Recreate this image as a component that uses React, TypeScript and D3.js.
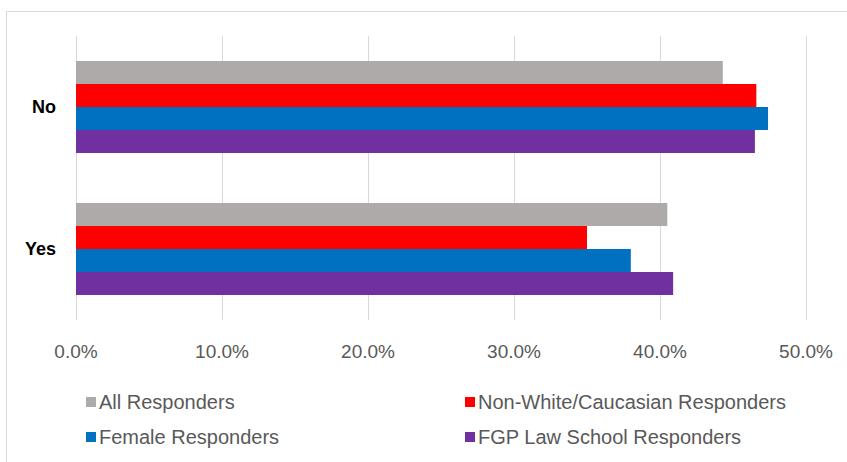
import * as d3 from "d3";
import { useEffect, useRef } from "react";

// Categories (top to bottom) and series
const categories = ["No", "Yes"];
const seriesNames = [
  "All Responders",
  "Non-White/Caucasian Responders",
  "Female Responders",
  "FGP Law School Responders",
];
const seriesColors = ["#AEAAAA", "#FF0000", "#0070C0", "#7030A0"];

// Values in percent, one array per series: [No, Yes]
const allResponders = [44.3, 40.5];
const nonWhiteResponders = [46.6, 35.0];
const femaleResponders = [47.4, 38.0];
const fgpResponders = [46.5, 40.9];

const xTicks = [0, 10, 20, 30, 40, 50];

const width = 847;
const height = 462;
const font = "'Liberation Sans', Arial, sans-serif";

const App = () => {
  const svgRef = useRef<SVGSVGElement>(null);

  useEffect(() => {
    if (!svgRef.current) return;
    const svg = d3.select(svgRef.current);
    svg.selectAll("*").remove();

    const values = [allResponders, nonWhiteResponders, femaleResponders, fgpResponders];
    const plot = { left: 76, right: 806, top: 36, bottom: 320 };

    // chart frame (runs off the right/bottom of the picture)
    svg
      .append("rect")
      .attr("x", 6.5)
      .attr("y", 11.5)
      .attr("width", 900)
      .attr("height", 500)
      .attr("fill", "#fff")
      .attr("stroke", "#d9d9d9");

    const x = d3.scaleLinear().domain([0, 50]).range([plot.left, plot.right]);
    const gap = 50 / 142;
    const y = d3
      .scaleBand()
      .domain(categories)
      .range([plot.top, plot.bottom])
      .paddingInner(gap)
      .paddingOuter(gap / 2);
    const yInner = d3
      .scaleBand()
      .domain(seriesNames)
      .range([0, y.bandwidth()]);

    // gridlines
    svg
      .append("g")
      .selectAll("line")
      .data(xTicks)
      .join("line")
      .attr("x1", d => Math.round(x(d)) + 0.5)
      .attr("x2", d => Math.round(x(d)) + 0.5)
      .attr("y1", plot.top)
      .attr("y2", plot.bottom)
      .attr("stroke", "#d9d9d9")
      .attr("stroke-width", 1);

    // tick labels
    svg
      .append("g")
      .selectAll("text")
      .data(xTicks)
      .join("text")
      .attr("x", d => x(d))
      .attr("y", 351)
      .attr("text-anchor", "middle")
      .attr("dominant-baseline", "central")
      .attr("font-family", font)
      .attr("font-size", 19)
      .attr("fill", "#595959")
      .text(d => `${d.toFixed(1)}%`);

    // category labels
    svg
      .append("g")
      .selectAll("text")
      .data(categories)
      .join("text")
      .attr("x", 56)
      .attr("y", d => (y(d) ?? 0) + y.bandwidth() / 2)
      .attr("text-anchor", "end")
      .attr("dominant-baseline", "central")
      .attr("font-family", font)
      .attr("font-size", 18)
      .attr("font-weight", "bold")
      .attr("fill", "#000")
      .text(d => d);

    // bars
    seriesNames.forEach((name, si) => {
      svg
        .append("g")
        .selectAll("rect")
        .data(categories.map((c, ci) => ({ c, v: values[si][ci] })))
        .join("rect")
        .attr("x", x(0))
        .attr("y", d => (y(d.c) ?? 0) + (yInner(name) ?? 0))
        .attr("width", d => x(d.v) - x(0))
        .attr("height", yInner.bandwidth())
        .attr("fill", seriesColors[si]);
    });

    // legend
    const legendPos = [
      { x: 86, y: 402 },
      { x: 465, y: 402 },
      { x: 86, y: 437 },
      { x: 465, y: 437 },
    ];
    const legend = svg
      .append("g")
      .selectAll("g")
      .data(seriesNames)
      .join("g")
      .attr("transform", (_, i) => `translate(${legendPos[i].x}, ${legendPos[i].y})`);
    legend
      .append("rect")
      .attr("x", 0)
      .attr("y", -5)
      .attr("width", 10)
      .attr("height", 10)
      .attr("fill", (_, i) => seriesColors[i]);
    legend
      .append("text")
      .attr("x", 13)
      .attr("y", 0)
      .attr("dominant-baseline", "central")
      .attr("font-family", font)
      .attr("font-size", 20)
      .attr("fill", "#595959")
      .text(d => d);
  }, []);

  return (
    <div style={{ position: "absolute", left: 0, top: 0 }}>
      <svg ref={svgRef} width={width} height={height} style={{ display: "block" }}></svg>
    </div>
  );
};

export default App;
